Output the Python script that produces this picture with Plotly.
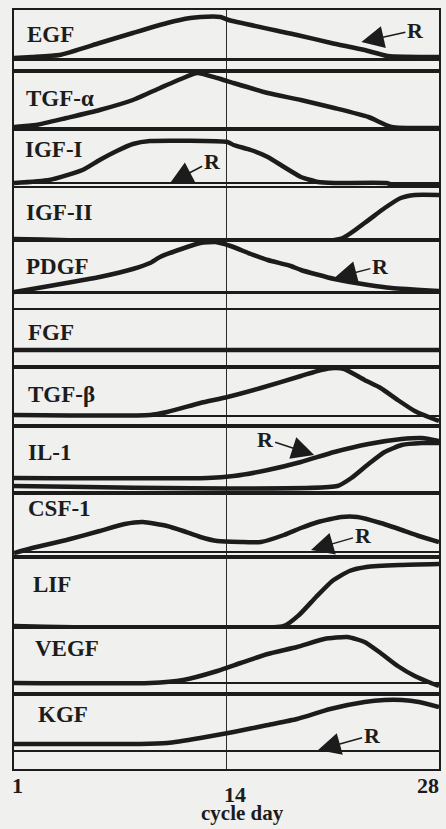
import plotly.graph_objects as go
from plotly.subplots import make_subplots

# ---------------- data (cycle day, relative level above panel baseline) ----------------
panel_names = ["EGF", "TGF-α", "IGF-I", "IGF-II", "PDGF", "FGF",
               "TGF-β", "IL-1", "CSF-1", "LIF", "VEGF", "KGF"]

egf_day = [1.0, 2.15, 3.88, 6.44, 8.55, 10.73, 12.20, 12.84, 14.12, 14.63, 18.98, 21.15, 23.27, 24.74, 28.0]
egf_level = [0.2, 0.4, 0.8, 3.2, 5.2, 7.2, 8.2, 8.4, 8.4, 7.8, 4.8, 3.2, 1.8, 0.6, 0.4]

tgfa_day = [1.0, 2.41, 4.33, 6.44, 8.55, 10.28, 11.75, 12.64, 13.92, 14.95, 17.12, 19.23, 21.35, 23.52, 24.99, 28.0]
tgfa_level = [0.4, 0.8, 2.2, 3.8, 5.8, 8.2, 10.2, 11.2, 10.2, 9.2, 7.2, 5.8, 4.2, 2.4, 0.4, 0.2]

igf1_day = [1.0, 3.24, 5.35, 6.44, 7.53, 8.55, 9.64, 14.56, 14.95, 16.04, 17.12, 18.15, 19.23, 20.32, 21.35, 24.67, 25.31, 28.0]
igf1_level = [0.0, 0.6, 2.6, 4.6, 6.4, 7.8, 8.4, 8.2, 7.6, 6.6, 5.2, 3.2, 1.2, 0.2, 0.0, 0.0, -0.6, -0.6]

igf2_day = [1.0, 21.73, 23.27, 24.55, 25.57, 26.46, 28.0]
igf2_level = [0.0, 0.0, 3.2, 6.2, 8.2, 8.8, 8.8]

pdgf_day = [1.0, 2.15, 4.33, 6.44, 8.55, 9.64, 10.28, 12.00, 12.84, 13.80, 14.76, 16.04, 17.12, 18.59, 19.23, 21.35, 23.52, 24.99, 28.0]
pdgf_level = [0.0, 0.6, 1.8, 3.0, 4.6, 5.8, 7.0, 9.0, 9.8, 10.0, 9.2, 7.6, 6.4, 5.2, 4.4, 2.6, 1.4, 0.8, 0.2]

fgf_day = [1.0, 28.0]
fgf_level = [0.0, 0.0]

tgfb_day = [1.0, 9.64, 10.73, 12.84, 14.56, 16.68, 19.23, 20.51, 21.35, 21.99, 23.27, 24.29, 25.38, 26.46, 27.49, 28.0]
tgfb_level = [0.2, 0.2, 0.8, 2.6, 3.8, 5.6, 8.0, 9.2, 9.6, 9.4, 7.2, 5.6, 3.2, 1.0, -0.4, -1.0]

il1_r_day = [1.0, 13.28, 14.95, 17.12, 19.23, 21.35, 23.52, 25.63, 26.91, 28.0]
il1_r_level = [1.6, 1.6, 2.0, 3.2, 4.8, 6.8, 8.4, 9.4, 9.6, 9.0]

il1_day = [1.0, 21.54, 22.43, 23.52, 24.55, 25.63, 26.91, 28.0]
il1_level = [0.0, 0.0, 1.6, 4.4, 6.8, 8.2, 8.6, 8.6]

csf1_day = [1.0, 2.15, 4.33, 6.44, 8.04, 9.19, 10.73, 11.75, 12.84, 13.92, 15.40, 16.68, 18.15, 19.23, 20.32, 21.79, 22.82, 24.29, 25.63, 26.72, 28.0]
csf1_level = [-0.2, 0.8, 2.4, 4.2, 5.6, 6.0, 5.2, 4.2, 3.0, 2.2, 2.0, 2.0, 3.4, 4.8, 6.0, 7.0, 7.0, 5.8, 4.4, 3.2, 2.0]

lif_day = [1.0, 18.15, 19.11, 20.19, 21.22, 22.31, 23.39, 25.50, 28.0]
lif_level = [0.0, 0.0, 2.2, 5.8, 9.0, 11.0, 11.8, 12.2, 12.4]

vegf_day = [1.0, 9.64, 11.75, 13.92, 15.40, 17.12, 18.98, 20.71, 22.18, 23.27, 24.29, 25.38, 26.46, 27.49, 28.0]
vegf_level = [0.0, 0.0, 0.6, 2.4, 4.0, 5.8, 7.2, 8.8, 9.2, 8.2, 6.0, 3.4, 1.4, 0.0, -0.6]

kgf_day = [1.0, 9.00, 10.73, 12.84, 14.95, 17.12, 18.98, 21.09, 23.27, 24.55, 25.63, 26.72, 28.0]
kgf_level = [1.4, 1.4, 1.6, 2.6, 3.8, 5.2, 6.4, 8.4, 9.8, 10.2, 10.2, 9.8, 8.8]

# receptor ("R") arrow targets
r_panel = ["EGF", "IGF-I", "PDGF", "IL-1", "CSF-1", "KGF"]
r_day = [23.07, 10.92, 21.35, 20.07, 19.87, 20.32]
r_level = [3.4, 0.0, 2.8, 6.2, 0.4, 0.2]

day_tick_labels = ["1", "14", "28"]
day_tick_values = [1, 14.5, 28]
x_title = "cycle day"

# ---------------- layout settings ----------------
curves = {
    "EGF": [(egf_day, egf_level)],
    "TGF-α": [(tgfa_day, tgfa_level)],
    "IGF-I": [(igf1_day, igf1_level)],
    "IGF-II": [(igf2_day, igf2_level)],
    "PDGF": [(pdgf_day, pdgf_level)],
    "FGF": [(fgf_day, fgf_level)],
    "TGF-β": [(tgfb_day, tgfb_level)],
    "IL-1": [(il1_r_day, il1_r_level), (il1_day, il1_level)],
    "CSF-1": [(csf1_day, csf1_level)],
    "LIF": [(lif_day, lif_level)],
    "VEGF": [(vegf_day, vegf_level)],
    "KGF": [(kgf_day, kgf_level)],
}
y_ranges = [[-2.4, 9.8], [0, 11.6], [-1.0, 10.8], [-0.2, 10.2], [-3.6, 10.4], [-3.4, 8.0],
            [-2.0, 9.8], [-1.4, 12.0], [-1.0, 11.8], [-0.2, 13.8], [-2.2, 11.2], [-3.6, 11.4]]
row_heights = [61, 58, 59, 52, 70, 57, 59, 67, 64, 70, 67, 75]
zero_widths = [3, 0, 1.8, 0, 3, 0, 2.5, 0, 1.5, 0, 2.5, 1.5]
label_dx = [11, 10, 9, 10, 10, 12, 12, 12, 12, 17, 19, 22]
label_dy = [24.5, 27, 20, 25, 26, 23, 28, 26, 15, 27, 21, 20]
r_offsets = {"EGF": (54, -12), "IGF-I": (42, -22), "PDGF": (46, -12),
             "IL-1": (-49, -16), "CSF-1": (52, -15), "KGF": (54, -15)}

INK = "#1c1c1c"
BG = "#f0f0ee"
FONT = "Liberation Serif"

n = len(panel_names)
fig = make_subplots(rows=n, cols=1, shared_xaxes=True, vertical_spacing=0,
                    row_heights=row_heights)

def sfx(i):
    return "" if i == 1 else str(i)

for i, name in enumerate(panel_names, start=1):
    for d, lv in curves[name]:
        fig.add_trace(go.Scatter(x=d, y=lv, mode="lines", showlegend=False,
                                 hoverinfo="skip",
                                 line=dict(color=INK, width=4.5, shape="spline", smoothing=0.5)),
                      row=i, col=1)
    zw = zero_widths[i - 1]
    fig.update_yaxes(range=y_ranges[i - 1], showgrid=False, showticklabels=False, ticks="",
                     zeroline=zw > 0, zerolinecolor=INK, zerolinewidth=max(zw, 0.1),
                     showline=True, mirror=True, linecolor=INK, linewidth=2,
                     fixedrange=True, row=i, col=1)
    fig.update_xaxes(range=[1, 28], showgrid=True, gridcolor="#2a2a2a", gridwidth=1.4,
                     tickvals=[day_tick_values[1]], showticklabels=False, ticks="",
                     zeroline=False, showline=True, mirror=True, linecolor=INK,
                     linewidth=1.7, fixedrange=True, row=i, col=1)
    fig.add_annotation(text=name, xref="paper", x=0, xanchor="left", xshift=label_dx[i - 1],
                       yref=f"y{sfx(i)} domain", y=1, yanchor="middle",
                       yshift=-label_dy[i - 1], showarrow=False,
                       font=dict(family=FONT, size=23, color=INK, weight="bold"))

for name, d, lv in zip(r_panel, r_day, r_level):
    i = panel_names.index(name) + 1
    ax, ay = r_offsets[name]
    fig.add_annotation(text="R", x=d, y=lv, xref=f"x{sfx(i)}", yref=f"y{sfx(i)}",
                       ax=ax, ay=ay, showarrow=True, arrowhead=2, arrowsize=3,
                       arrowwidth=1.5, arrowcolor=INK, standoff=0,
                       font=dict(family=FONT, size=22, color=INK, weight="bold"))

# x-axis tick labels and title
tick_shift = [(3, -16.5), (8, -25), (-11, -16.5)]
for lab, val, (dx, dy) in zip(day_tick_labels, day_tick_values, tick_shift):
    fig.add_annotation(text=lab, x=val, xref=f"x{sfx(n)}", y=0, yref="paper",
                       xshift=dx, yshift=dy, yanchor="middle", showarrow=False,
                       font=dict(family=FONT, size=22, color=INK, weight="bold"))
fig.add_annotation(text=x_title, x=day_tick_values[1], xref=f"x{sfx(n)}", y=0, yref="paper",
                   xshift=15.5, yshift=-44, yanchor="middle", showarrow=False,
                   font=dict(family=FONT, size=21, color=INK, weight="bold"))

fig.update_layout(width=446, height=829, margin=dict(l=14, r=5, t=10, b=60),
                  paper_bgcolor=BG, plot_bgcolor=BG, showlegend=False)

fig.write_html("out.html", config={"displayModeBar": False, "staticPlot": True},
               post_script="document.body.style.margin='0';document.body.style.background='%s';" % BG)
